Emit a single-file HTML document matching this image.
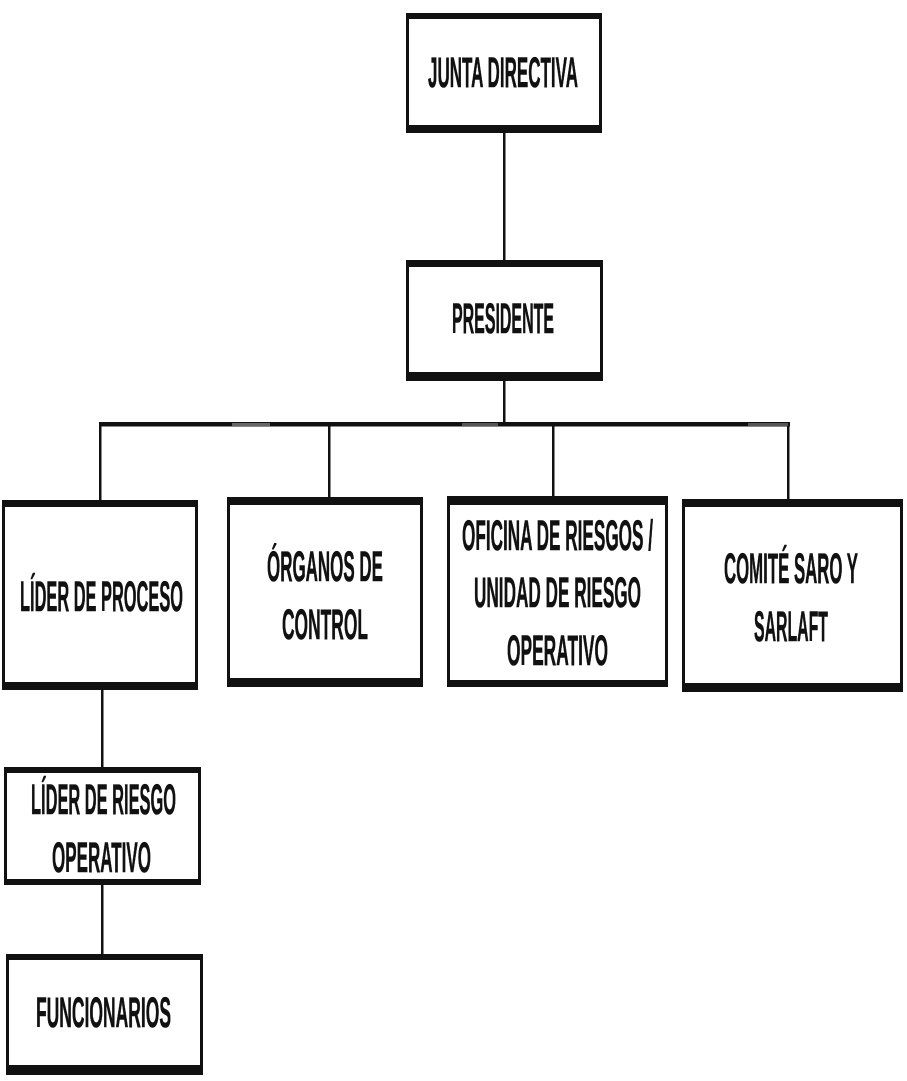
<!DOCTYPE html>
<html>
<head>
<meta charset="utf-8">
<style>
  html, body { margin:0; padding:0; background:#fff; }
  svg { display:block; }
  text { font-family: "Liberation Sans", "DejaVu Sans", sans-serif; font-weight:bold; font-size:43px; fill:#111; stroke:#111; stroke-width:0.6px; }
</style>
</head>
<body>
<svg width="907" height="1081" viewBox="0 0 907 1081" xmlns="http://www.w3.org/2000/svg">
  <rect x="0" y="0" width="907" height="1081" fill="#fff"/>

  <!-- connectors -->
  <g fill="#111">
    <rect x="503" y="133" width="2.5" height="127"/>
    <rect x="503" y="381" width="2.5" height="44"/>
    <rect x="99" y="422" width="691" height="4.5"/>
    <rect x="99" y="423" width="2.5" height="77"/>
    <rect x="328" y="423" width="2.5" height="74"/>
    <rect x="552" y="423" width="2.5" height="73"/>
    <rect x="787" y="423" width="2.5" height="76"/>
    <rect x="101" y="690" width="2.5" height="77"/>
    <rect x="101" y="885" width="2.5" height="69"/>
  </g>
  <!-- slight gray artifacts on the horizontal bar -->
  <rect x="232" y="423" width="38" height="3" fill="#666"/>
  <rect x="462" y="423" width="36" height="3" fill="#555"/>
  <rect x="748" y="423" width="40" height="3" fill="#555"/>

  <!-- boxes: outer black, inner white -->
  <g>
    <rect x="406" y="13" width="196" height="120" fill="#111"/>
    <rect x="409" y="19" width="190" height="106" fill="#fff"/>
    <rect x="406" y="260" width="197" height="121" fill="#111"/>
    <rect x="409" y="267" width="191" height="105" fill="#fff"/>
    <rect x="2" y="500" width="196" height="190" fill="#111"/>
    <rect x="5" y="507" width="190" height="175" fill="#fff"/>
    <rect x="227" y="497" width="196" height="190" fill="#111"/>
    <rect x="230" y="505" width="190" height="173" fill="#fff"/>
    <rect x="447" y="496" width="221" height="191" fill="#111"/>
    <rect x="450" y="505" width="215" height="175" fill="#fff"/>
    <rect x="682" y="499" width="221" height="193" fill="#111"/>
    <rect x="685" y="507" width="215" height="176" fill="#fff"/>
    <rect x="4" y="767" width="197" height="118" fill="#111"/>
    <rect x="7" y="773" width="191" height="106" fill="#fff"/>
    <rect x="6" y="954" width="197" height="121" fill="#111"/>
    <rect x="9" y="960" width="191" height="105" fill="#fff"/>
  </g>

  <!-- labels -->
  <text x="428" y="87" textLength="150" lengthAdjust="spacingAndGlyphs">JUNTA DIRECTIVA</text>
  <text x="452" y="333" textLength="102" lengthAdjust="spacingAndGlyphs">PRESIDENTE</text>

  <text x="20" y="611" textLength="163" lengthAdjust="spacingAndGlyphs">LÍDER DE PROCESO</text>

  <text x="267" y="581" textLength="116" lengthAdjust="spacingAndGlyphs">ÓRGANOS DE</text>
  <text x="282" y="639" textLength="86" lengthAdjust="spacingAndGlyphs">CONTROL</text>

  <text x="462" y="550" textLength="191" lengthAdjust="spacingAndGlyphs">OFICINA DE RIESGOS /</text>
  <text x="474" y="607" textLength="167" lengthAdjust="spacingAndGlyphs">UNIDAD DE RIESGO</text>
  <text x="507" y="665" textLength="101" lengthAdjust="spacingAndGlyphs">OPERATIVO</text>

  <text x="724" y="583" textLength="134" lengthAdjust="spacingAndGlyphs">COMITÉ SARO Y</text>
  <text x="754" y="641" textLength="74" lengthAdjust="spacingAndGlyphs">SARLAFT</text>

  <text x="31" y="814" textLength="145" lengthAdjust="spacingAndGlyphs">LÍDER DE RIESGO</text>
  <text x="52" y="872" textLength="99" lengthAdjust="spacingAndGlyphs">OPERATIVO</text>

  <text x="36" y="1027" textLength="135" lengthAdjust="spacingAndGlyphs">FUNCIONARIOS</text>
</svg>
</body>
</html>
